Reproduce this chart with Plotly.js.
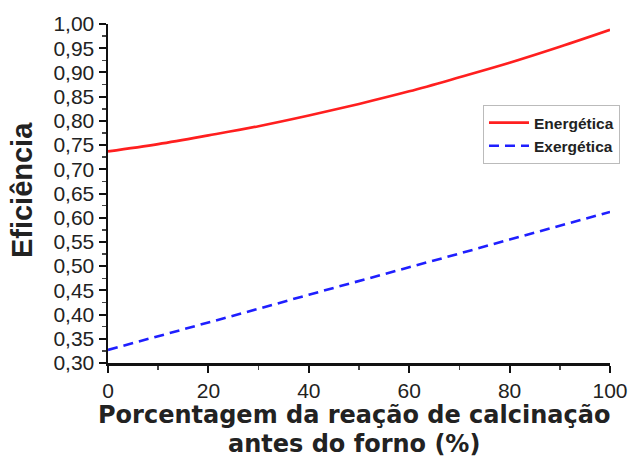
<!DOCTYPE html>
<html>
<head>
<meta charset="utf-8">
<script src="https://cdn.plot.ly/plotly-3.0.1.min.js"></script>
<style>html,body{margin:0;padding:0;background:#fff;}#chart{width:633px;height:458px;}</style>
</head>
<body>
<div id="chart"></div>
<script>
const xValues = [0, 10, 20, 30, 40, 50, 60, 70, 80, 90, 100];
const energetica = [0.737, 0.752, 0.770, 0.789, 0.811, 0.835, 0.861, 0.890, 0.920, 0.953, 0.988];
const exergetica = [0.327, 0.355, 0.384, 0.412, 0.441, 0.469, 0.498, 0.526, 0.555, 0.583, 0.612];
const seriesNames = ["Energética", "Exergética"];
const xTitleLines = ["Porcentagem da reação de calcinação", "antes do forno (%)"];
const yTitle = "Eficiência";

const font = "Liberation Sans, Arial, sans-serif";
const titleFont = "DejaVu Sans, Liberation Sans, sans-serif";
const traces = [
  {x: xValues, y: energetica, name: seriesNames[0], mode: "lines", line: {color: "#ff1f1f", width: 2.6, shape: "spline"}},
  {x: xValues, y: exergetica, name: seriesNames[1], mode: "lines", line: {color: "#1f1fff", width: 2.6, dash: "10px,6px"}}
];
const layout = {
  width: 633, height: 458,
  margin: {l: 108, r: 23, t: 24, b: 95},
  paper_bgcolor: "#fff", plot_bgcolor: "#fff",
  separators: ",.",
  font: {family: font, color: "#222", size: 21},
  showlegend: true,
  legend: {x: 0.747, y: 0.761, xanchor: "left", yanchor: "top",
    bordercolor: "#bbb", borderwidth: 1, bgcolor: "#fff",
    font: {family: font, size: 15.5, color: "#222", weight: "bold"},
    tracegroupgap: 0, itemwidth: 40},
  xaxis: {range: [0, 100], showgrid: false, zeroline: false,
    showline: true, linecolor: "#111", linewidth: 2.5,
    ticks: "outside", tickcolor: "#111", ticklen: 7, tickwidth: 2,
    tick0: 0, dtick: 20,
    minor: {ticks: "outside", dtick: 10, ticklen: 4, tickwidth: 1.5, tickcolor: "#444"},
    tickfont: {size: 21, family: font, color: "#222"}
  },
  yaxis: {range: [0.30, 1.00], showgrid: false, zeroline: false,
    showline: true, linecolor: "#111", linewidth: 2.5,
    ticks: "outside", tickcolor: "#111", ticklen: 7, tickwidth: 2,
    tick0: 0.30, dtick: 0.05, tickformat: ".2f",
    minor: {ticks: "outside", dtick: 0.025, ticklen: 4, tickwidth: 1.5, tickcolor: "#444"},
    tickfont: {size: 21, family: font, color: "#222"}
  },
  annotations: [
    {text: "<b>" + xTitleLines[0] + "</b>", xref: "paper", yref: "paper", x: 0.49, y: -0.153,
     xanchor: "center", yanchor: "middle", showarrow: false, font: {size: 24, family: titleFont, color: "#222"}},
    {text: "<b>" + xTitleLines[1] + "</b>", xref: "paper", yref: "paper", x: 0.49, y: -0.238,
     xanchor: "center", yanchor: "middle", showarrow: false, font: {size: 24, family: titleFont, color: "#222"}},
    {text: "<b>" + yTitle + "</b>", xref: "paper", yref: "paper", x: -0.17, y: 0.509, textangle: -90,
     xanchor: "center", yanchor: "middle", showarrow: false, font: {size: 29, family: font, color: "#222"}}
  ]
};
Plotly.newPlot("chart", traces, layout, {staticPlot: true, displayModeBar: false});
</script>
</body>
</html>
